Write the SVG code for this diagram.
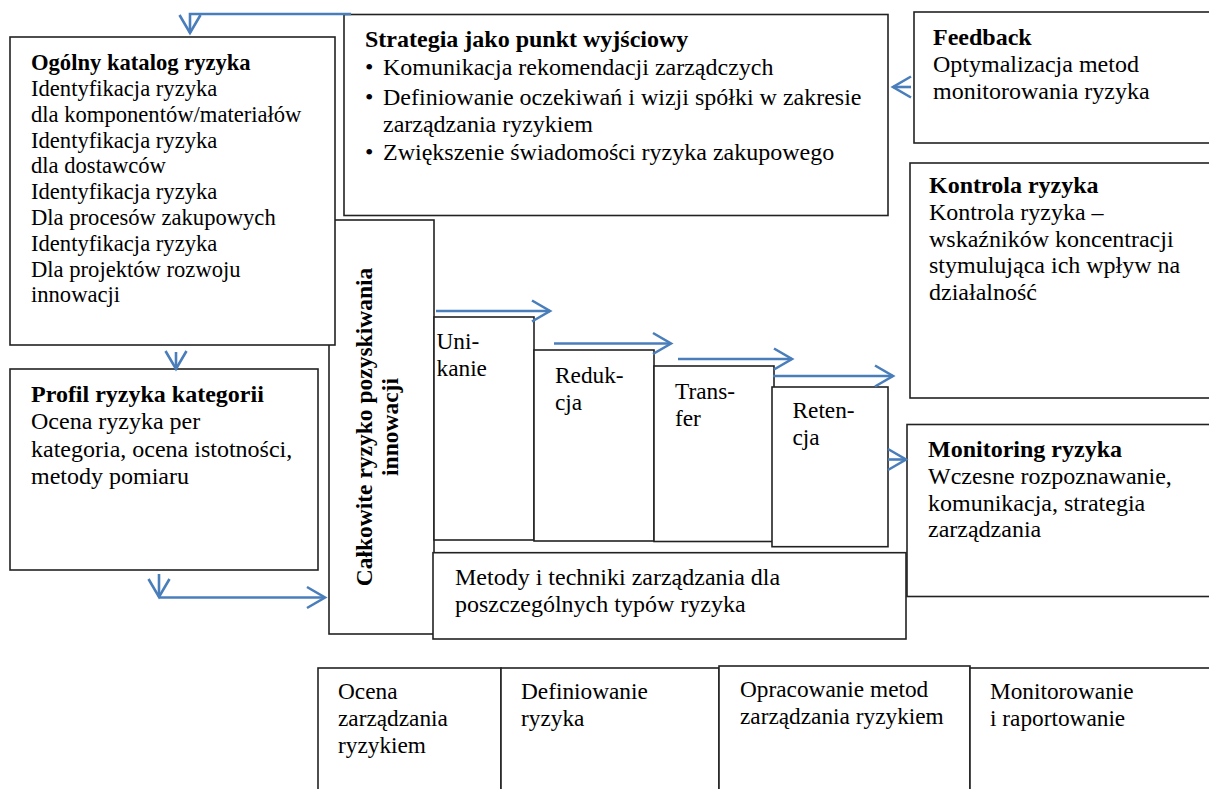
<svg xmlns="http://www.w3.org/2000/svg" width="1209" height="789" viewBox="0 0 1209 789">
<style>
.box{fill:#fff;stroke:#222;stroke-width:1.6}
text{font-family:"Liberation Serif","Times New Roman",serif;fill:#000}
.t{font-size:24px}
.s{font-size:23.3px}
.o{font-size:22.6px}
.b{font-weight:bold}
.c{fill:none;stroke:#4a7ebb;stroke-width:2.6}
</style>
<defs>
<marker id="ah" markerUnits="userSpaceOnUse" markerWidth="24" markerHeight="26" refX="19" refY="11" orient="auto" overflow="visible">
<path d="M1,0.5 L19,11 L1,21.5" fill="none" stroke="#4a7ebb" stroke-width="2.6"/>
</marker>
</defs>
<rect width="1209" height="789" fill="#fff"/>

<g id="calkowite">
<rect class="box" x="329" y="220" width="105" height="414"/>
<text class="b" style="font-size:23.5px" text-anchor="middle" transform="translate(372,427) rotate(-90)">Całkowite ryzyko pozyskiwania</text>
<text class="b" style="font-size:23.5px" text-anchor="middle" transform="translate(398,427) rotate(-90)">innowacji</text>
</g>

<g id="ogolny">
<rect class="box" x="10" y="37" width="325" height="308"/>
<text class="o" x="31"><tspan class="b" x="31" y="70">Ogólny katalog ryzyka</tspan><tspan x="31" y="96">Identyfikacja ryzyka</tspan><tspan x="31" y="122">dla komponentów/materiałów</tspan><tspan x="31" y="147.5">Identyfikacja ryzyka</tspan><tspan x="31" y="173.3">dla dostawców</tspan><tspan x="31" y="199">Identyfikacja ryzyka</tspan><tspan x="31" y="225">Dla procesów zakupowych</tspan><tspan x="31" y="251">Identyfikacja ryzyka</tspan><tspan x="31" y="276.5">Dla projektów rozwoju</tspan><tspan x="31" y="302">innowacji</tspan></text>
</g>

<g id="strategia">
<rect class="box" x="344" y="14.5" width="544" height="201"/>
<text class="t b" x="365" y="47">Strategia jako punkt wyjściowy</text>
<text class="t" x="365" y="75">•</text>
<text class="t" x="383" y="75">Komunikacja rekomendacji zarządczych</text>
<text class="t" x="365" y="105">•</text>
<text class="t" x="383" y="105">Definiowanie oczekiwań i wizji spółki w zakresie</text>
<text class="t" x="383" y="132">zarządzania ryzykiem</text>
<text class="t" x="365" y="160">•</text>
<text class="t" x="383" y="160">Zwiększenie świadomości ryzyka zakupowego</text>
</g>

<g id="feedback">
<rect class="box" x="914" y="12" width="300" height="131"/>
<text class="t" x="933"><tspan class="b" x="933" y="45">Feedback</tspan><tspan x="933" y="71.7">Optymalizacja metod</tspan><tspan x="933" y="99">monitorowania ryzyka</tspan></text>
</g>

<g id="kontrola">
<rect class="box" x="910" y="163" width="305" height="235"/>
<text class="t" x="929"><tspan class="b" x="929" y="193">Kontrola ryzyka</tspan><tspan x="929" y="220">Kontrola ryzyka –</tspan><tspan x="929" y="246.7">wskaźników koncentracji</tspan><tspan x="929" y="273.3">stymulująca ich wpływ na</tspan><tspan x="929" y="300">działalność</tspan></text>
</g>

<g id="monitoring">
<rect class="box" x="907" y="424.5" width="308" height="172"/>
<text class="t" x="928"><tspan class="b" x="928" y="457.3">Monitoring ryzyka</tspan><tspan x="928" y="484">Wczesne rozpoznawanie,</tspan><tspan x="928" y="510.5">komunikacja, strategia</tspan><tspan x="928" y="537">zarządzania</tspan></text>
</g>

<g id="profil">
<rect class="box" x="10" y="369" width="308" height="201"/>
<text class="t" x="31"><tspan class="b" x="31" y="401.7">Profil ryzyka kategorii</tspan><tspan x="31" y="429">Ocena ryzyka per</tspan><tspan x="31" y="456.7">kategoria, ocena istotności,</tspan><tspan x="31" y="484">metody pomiaru</tspan></text>
</g>

<g id="unikanie">
<rect class="box" x="434" y="317" width="100" height="223"/>
<text class="s" x="436.5"><tspan x="436.5" y="349.3">Uni-</tspan><tspan x="436.5" y="376">kanie</tspan></text>
</g>
<g id="redukcja">
<rect class="box" x="534" y="350" width="120" height="191"/>
<text class="s" x="555"><tspan x="555" y="383">Reduk-</tspan><tspan x="555" y="410">cja</tspan></text>
</g>
<g id="transfer">
<rect class="box" x="654" y="366" width="120" height="175.5"/>
<text class="s" x="675"><tspan x="675" y="398.5">Trans-</tspan><tspan x="675" y="426">fer</tspan></text>
</g>
<g id="retencja">
<rect class="box" x="772" y="387" width="116" height="159.7"/>
<text class="s" x="792.5"><tspan x="792.5" y="418">Reten-</tspan><tspan x="792.5" y="445">cja</tspan></text>
</g>

<g id="metody">
<rect class="box" x="433" y="552.7" width="473" height="86.3"/>
<text class="t" x="455"><tspan x="455" y="585">Metody i techniki zarządzania dla</tspan><tspan x="455" y="611.7">poszczególnych typów ryzyka</tspan></text>
</g>

<g id="ocena">
<rect class="box" x="318" y="668" width="183" height="130"/>
<text class="s" x="338"><tspan x="338" y="699">Ocena</tspan><tspan x="338" y="726">zarządzania</tspan><tspan x="338" y="753">ryzykiem</tspan></text>
</g>
<g id="definiowanie">
<rect class="box" x="501" y="668" width="218" height="130"/>
<text class="s" x="521"><tspan x="521" y="699">Definiowanie</tspan><tspan x="521" y="726">ryzyka</tspan></text>
</g>
<g id="opracowanie">
<rect class="box" x="719" y="666" width="251" height="132"/>
<text class="s" x="740"><tspan x="740" y="697">Opracowanie metod</tspan><tspan x="740" y="724">zarządzania ryzykiem</tspan></text>
</g>
<g id="monitorowanie">
<rect class="box" x="970" y="668" width="245" height="130"/>
<text class="s" x="990"><tspan x="990" y="699">Monitorowanie</tspan><tspan x="990" y="726">i raportowanie</tspan></text>
</g>

<g id="connectors">
<polyline class="c" points="351,14 190,14 190,33" marker-end="url(#ah)"/>
<line class="c" x1="176" y1="352" x2="176" y2="369" marker-end="url(#ah)"/>
<line class="c" x1="159" y1="574" x2="159" y2="597" marker-end="url(#ah)"/>
<line class="c" x1="159" y1="597.5" x2="325" y2="597.5" marker-end="url(#ah)"/>
<line class="c" x1="436" y1="311" x2="550" y2="311" marker-end="url(#ah)"/>
<line class="c" x1="554" y1="343.5" x2="671" y2="343.5" marker-end="url(#ah)"/>
<line class="c" x1="678" y1="359" x2="792" y2="359" marker-end="url(#ah)"/>
<line class="c" x1="773" y1="376" x2="893" y2="376" marker-end="url(#ah)"/>
<line class="c" x1="888" y1="459.5" x2="906" y2="459.5" marker-end="url(#ah)"/>
<line class="c" x1="911" y1="87" x2="893" y2="87" marker-end="url(#ah)"/>
</g>
</svg>
